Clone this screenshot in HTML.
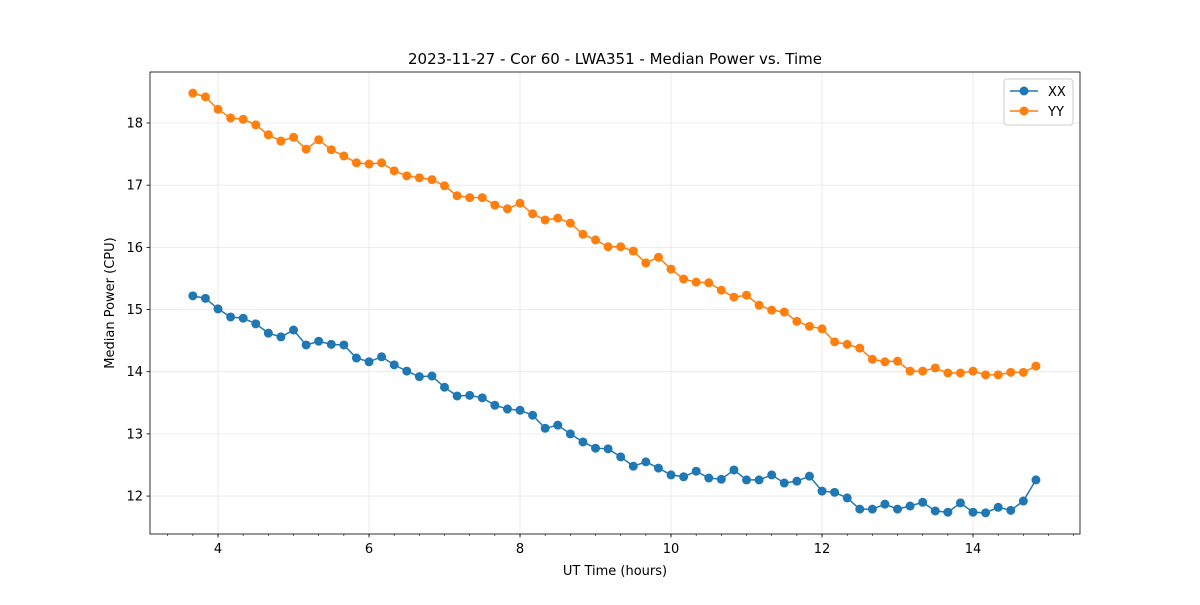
<!DOCTYPE html>
<html><head><meta charset="utf-8"><style>
body{margin:0;background:#fff;font-family:"Liberation Sans","DejaVu Sans",sans-serif}
svg text{font-family:"DejaVu Sans","Liberation Sans",sans-serif}
</style></head><body>
<svg id="chart" width="1200" height="600" xmlns="http://www.w3.org/2000/svg"></svg>
<script>
const xxValues=[15.22,15.18,15.01,14.88,14.86,14.77,14.62,14.56,14.67,14.43,14.49,14.44,14.43,14.22,14.16,14.24,14.11,14.01,13.92,13.93,13.75,13.61,13.62,13.58,13.46,13.40,13.38,13.30,13.09,13.14,13.00,12.87,12.77,12.76,12.63,12.48,12.55,12.45,12.34,12.31,12.40,12.29,12.27,12.42,12.26,12.26,12.34,12.21,12.24,12.32,12.08,12.06,11.97,11.79,11.79,11.87,11.79,11.84,11.90,11.76,11.74,11.89,11.74,11.73,11.82,11.77,11.92,12.26];
const yyValues=[18.48,18.42,18.22,18.08,18.06,17.97,17.81,17.71,17.77,17.58,17.73,17.57,17.47,17.36,17.34,17.36,17.23,17.15,17.12,17.09,16.99,16.83,16.80,16.80,16.68,16.62,16.71,16.54,16.44,16.47,16.39,16.21,16.12,16.01,16.01,15.94,15.75,15.84,15.65,15.49,15.44,15.43,15.31,15.20,15.23,15.07,14.99,14.96,14.81,14.73,14.69,14.48,14.44,14.38,14.20,14.16,14.17,14.01,14.01,14.06,13.98,13.98,14.01,13.95,13.95,13.99,13.99,14.09];
const timeStart=3.6667, timeStep=1/6;
const xTicks=[4,6,8,10,12,14];
const yTicks=[12,13,14,15,16,17,18];
const L=150,R=1080,T=72,B=534;
const x0=3.099,x1=15.417,y0=11.39,y1=18.82;
const sx=v=>L+(v-x0)/(x1-x0)*(R-L);
const sy=v=>B-(v-y0)/(y1-y0)*(B-T);
const svg=document.getElementById('chart');
const NS='http://www.w3.org/2000/svg';
function mk(tag,attrs,parent){const e=document.createElementNS(NS,tag);for(const k in attrs)e.setAttribute(k,attrs[k]);(parent||svg).appendChild(e);return e;}
const grid=mk('g',{});


xTicks.forEach(t=>{mk('line',{x1:sx(t),x2:sx(t),y1:T,y2:B,stroke:'#b0b0b0','stroke-opacity':0.3,'stroke-width':0.8},grid);});
yTicks.forEach(t=>{mk('line',{x1:L,x2:R,y1:sy(t),y2:sy(t),stroke:'#b0b0b0','stroke-opacity':0.3,'stroke-width':0.8},grid);});
const xa=mk('g',{});


for(let m=3+1/3;m<x1;m+=1/3){const px=sx(m);if(px<L)continue;mk('line',{x1:px,x2:px,y1:B,y2:B+2,stroke:'#000','stroke-width':0.6},xa);}
xTicks.forEach(t=>{mk('line',{x1:sx(t),x2:sx(t),y1:B,y2:B+3.5,stroke:'#000','stroke-width':0.8},xa);const tx=mk('text',{x:sx(t),y:B+19,'text-anchor':'middle','font-size':13},xa);tx.textContent=t;});
const ya=mk('g',{});


yTicks.forEach(t=>{mk('line',{x1:L-3.5,x2:L,y1:sy(t),y2:sy(t),stroke:'#000','stroke-width':0.8},ya);const tx=mk('text',{x:L-7,y:sy(t)+4.5,'text-anchor':'end','font-size':13},ya);tx.textContent=t;});
function series(vals,color,name){
  const g=mk('g',{});
  
  
  const pts=vals.map((v,i)=>sx(timeStart+i*timeStep)+','+sy(v)).join(' ');
  mk('polyline',{points:pts,fill:'none',stroke:color,'stroke-width':1.5},g);
  vals.forEach((v,i)=>{const c=mk('circle',{cx:sx(timeStart+i*timeStep),cy:sy(v),r:4.5,fill:color},g);
    
    });
}
series(xxValues,'#1f77b4','series-xx');
series(yyValues,'#ff7f0e','series-yy');
const frame=mk('rect',{x:L,y:T,width:R-L,height:B-T,fill:'none',stroke:'#000','stroke-width':0.8});


</script>
<svg width="1200" height="600" style="position:absolute;left:0;top:0" xmlns="http://www.w3.org/2000/svg">
<text x="615" y="64" text-anchor="middle" font-size="15">2023-11-27 - Cor 60 - LWA351 - Median Power vs. Time</text>
<text x="615" y="575" text-anchor="middle" font-size="13">UT Time (hours)</text>
<text transform="translate(114,303) rotate(-90)" text-anchor="middle" font-size="13">Median Power (CPU)</text>
<g>
<rect x="1004" y="79" width="69" height="46" rx="3" fill="#fff" fill-opacity="0.8" stroke="#ccc"/>
<g><line x1="1010" x2="1038" y1="91" y2="91" stroke="#1f77b4" stroke-width="1.5"/><circle cx="1024" cy="91" r="4.5" fill="#1f77b4"/><text x="1048" y="96" font-size="13">XX</text></g>
<g><line x1="1010" x2="1038" y1="111" y2="111" stroke="#ff7f0e" stroke-width="1.5"/><circle cx="1024" cy="111" r="4.5" fill="#ff7f0e"/><text x="1048" y="116" font-size="13">YY</text></g>
</g>
</svg>
</body></html>
